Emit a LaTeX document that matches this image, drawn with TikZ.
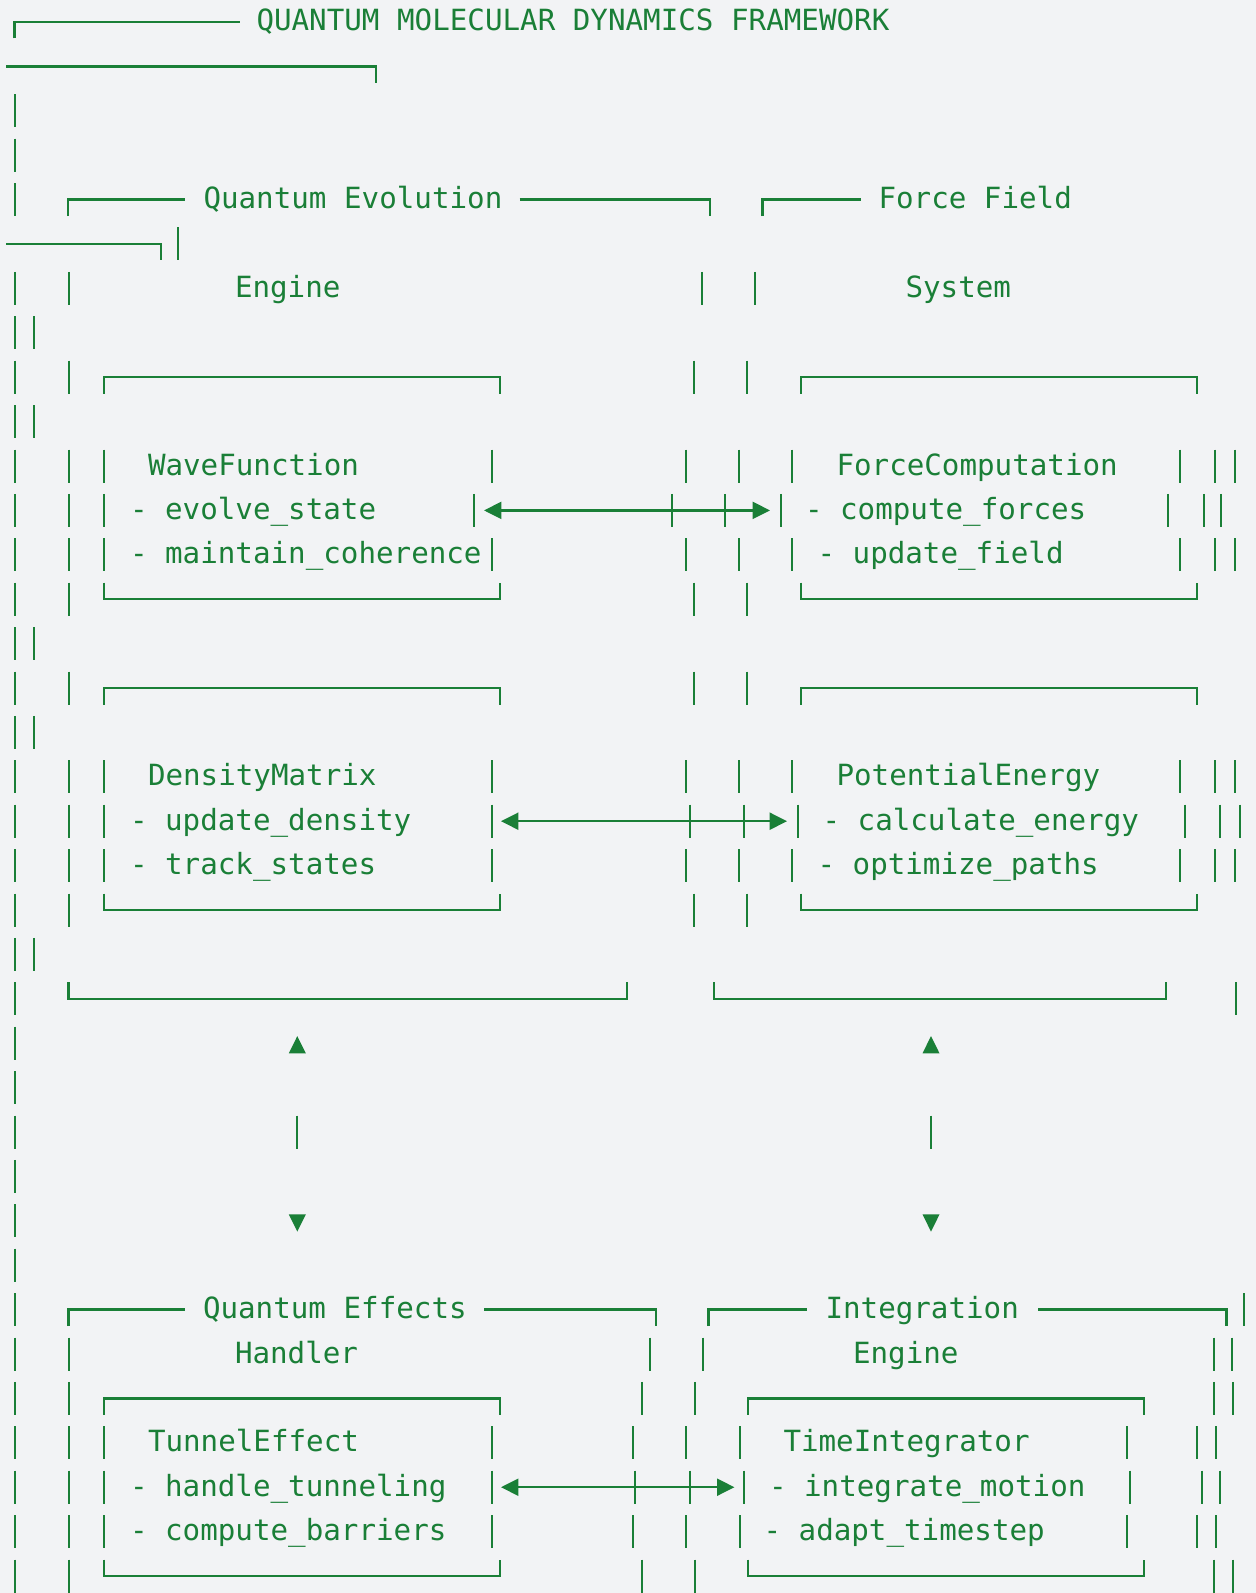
\documentclass[tikz,border=0pt]{standalone}
\usepackage{fontspec}
\newfontfamily\codefont{DejaVu Sans Mono}
\usetikzlibrary{arrows.meta}
\definecolor{ink}{RGB}{26,127,55}
\definecolor{paper}{RGB}{242,243,245}

% vertical centre of text row #1 (1 unit = 1 px, y grows downwards)
\newcommand\rowy[1]{(22+(#1-1)*44.4)}
% short vertical strokes on row #1 at the listed x positions
\newcommand\vbars[2]{\foreach \bx in {#2}{\draw[bar] (\bx,{\rowy{#1}-16.5}) -- (\bx,{\rowy{#1}+16.5});}}
% top edge of a box: corner ticks point down
\newcommand\boxtop[3]{\draw[rule] (#2,{\rowy{#1}+16.5}) -- (#2,{\rowy{#1}}) -- (#3,{\rowy{#1}}) -- (#3,{\rowy{#1}+16.5});}
% bottom edge of a box: corner ticks point up
\newcommand\boxbot[3]{\draw[rule] (#2,{\rowy{#1}-16.5}) -- (#2,{\rowy{#1}}) -- (#3,{\rowy{#1}}) -- (#3,{\rowy{#1}-16.5});}
% rule with a left corner only / a right corner only
\newcommand\ltop[3]{\draw[rule] (#2,{\rowy{#1}+16.5}) -- (#2,{\rowy{#1}}) -- (#3,{\rowy{#1}});}
\newcommand\rtop[3]{\draw[rule] (#2,{\rowy{#1}}) -- (#3,{\rowy{#1}}) -- (#3,{\rowy{#1}+16.5});}
% solid triangles pointing up / down, centred at (#1,#2)
\newcommand\uptri[2]{\fill[ink] (#1,{#2-8.6}) -- ({#1+8.5},{#2+8.6}) -- ({#1-8.5},{#2+8.6}) -- cycle;}
\newcommand\downtri[2]{\fill[ink] (#1,{#2+8.6}) -- ({#1+8.5},{#2-8.6}) -- ({#1-8.5},{#2-8.6}) -- cycle;}

\begin{document}
\begin{tikzpicture}[x=0.5pt,y=-0.5pt,
  bar/.style={draw=ink,line width=1pt},
  rule/.style={draw=ink,line width=1.2pt,line join=miter},
  txt/.style={text=ink,font=\codefont\fontsize{14.6pt}{17pt}\selectfont,
    inner sep=0pt,outer sep=0pt,anchor=base west},
  link/.style={draw=ink,line width=1.1pt,
    {Triangle[length=8.7pt,width=8.5pt]}-{Triangle[length=8.7pt,width=8.5pt]}},
]
\fill[paper] (0,0) rectangle (1256,1593);
\useasboundingbox (0,0) rectangle (1256,1593);

% ---- outer frame header
\ltop{1}{14.5}{240}
\node[txt] (title) at (256.5,{\rowy{1}+9}) {QUANTUM MOLECULAR DYNAMICS FRAMEWORK};
\rtop{2}{6}{376}
\vbars{3}{15}
\vbars{4}{15}

% ---- headers of the two upper groups
\vbars{5}{15}
\ltop{5}{67.7}{185}
\node[txt] (qe) at (203.5,{\rowy{5}+9}) {Quantum Evolution};
\rtop{5}{519.5}{710}
\ltop{5}{762.3}{861}
\node[txt] (ff) at (878.5,{\rowy{5}+9}) {Force Field};
\rtop{6}{6}{160.7}
\vbars{6}{178}
\vbars{7}{15,69.2,702,755}
\node[txt] (qe2) at (235,{\rowy{7}+9}) {Engine};
\node[txt] (ff2) at (905.5,{\rowy{7}+9}) {System};
\vbars{8}{15,33.5}

% ---- WaveFunction / ForceComputation
\vbars{9}{15,69.2,694,747.4}
\boxtop{9}{104}{500}
\boxtop{9}{800.8}{1197}
\vbars{10}{15,33.5}
\vbars{11}{15,69.2,104,492,685.6,739,792,1179.6,1215,1234.5}
\node[txt] (wf) at (148,{\rowy{11}+9}) {WaveFunction};
\node[txt] (fc) at (836.5,{\rowy{11}+9}) {ForceComputation};
\vbars{12}{15,69.2,104,474,672,725.4,780.6,1168,1203.5,1221}
\node[txt] (wf1) at (130,{\rowy{12}+9}) {- evolve\_state};
\node[txt] (fc1) at (805,{\rowy{12}+9}) {- compute\_forces};
\coordinate (wf-e) at (484,{\rowy{12}});
\coordinate (fc-w) at (770,{\rowy{12}});
\draw[link] (wf-e) -- (fc-w);
\vbars{13}{15,69.2,104,492,685.6,739,792,1179.6,1215,1234.5}
\node[txt] (wf2) at (130,{\rowy{13}+9}) {- maintain\_coherence};
\node[txt] (fc2) at (817.5,{\rowy{13}+9}) {- update\_field};
\vbars{14}{15,69.2,694,747.4}
\boxbot{14}{104}{500}
\boxbot{14}{800.8}{1197}
\vbars{15}{15,33.5}

% ---- DensityMatrix / PotentialEnergy
\vbars{16}{15,69.2,694,747.4}
\boxtop{16}{104}{500}
\boxtop{16}{800.8}{1197}
\vbars{17}{15,33.5}
\vbars{18}{15,69.2,104,492,685.6,739,792,1179.6,1215,1234.5}
\node[txt] (dm) at (148,{\rowy{18}+9}) {DensityMatrix};
\node[txt] (pe) at (836.5,{\rowy{18}+9}) {PotentialEnergy};
\vbars{19}{15,69.2,104,492,689.5,743.5,797.7,1185.4,1220,1239.5}
\node[txt] (dm1) at (130,{\rowy{19}+9}) {- update\_density};
\node[txt] (pe1) at (822.5,{\rowy{19}+9}) {- calculate\_energy};
\coordinate (dm-e) at (501,{\rowy{19}});
\coordinate (pe-w) at (787,{\rowy{19}});
\draw[link] (dm-e) -- (pe-w);
\vbars{20}{15,69.2,104,492,685.6,739,792,1179.6,1215,1234.5}
\node[txt] (dm2) at (130,{\rowy{20}+9}) {- track\_states};
\node[txt] (pe2) at (817.5,{\rowy{20}+9}) {- optimize\_paths};
\vbars{21}{15,69.2,694,747.4}
\boxbot{21}{104}{500}
\boxbot{21}{800.8}{1197}
\vbars{22}{15,33.5}

% ---- closing edges of the upper groups
\vbars{23}{15,1236}
\boxbot{23}{68.3}{627}
\boxbot{23}{714}{1166}

% ---- vertical links between the tiers
\vbars{24}{15}
\uptri{297.3}{\rowy{24}+1.5}
\uptri{931}{\rowy{24}+1.5}
\vbars{25}{15}
\vbars{26}{15,297.3,931}
\vbars{27}{15}
\vbars{28}{15}
\downtri{297.3}{\rowy{28}+2.2}
\downtri{931}{\rowy{28}+2.2}
\vbars{29}{15}

% ---- headers of the two lower groups
\vbars{30}{15,1243.5}
\ltop{30}{68.3}{185}
\node[txt] (qh) at (203,{\rowy{30}+9}) {Quantum Effects};
\rtop{30}{484}{656}
\ltop{30}{708.4}{807.4}
\node[txt] (ie) at (825.5,{\rowy{30}+9}) {Integration};
\rtop{30}{1038}{1226.5}
\vbars{31}{15,69.2,649.6,703.2,1214.3,1231.8}
\node[txt] (qh2) at (235,{\rowy{31}+9}) {Handler};
\node[txt] (ie2) at (853,{\rowy{31}+9}) {Engine};

% ---- TunnelEffect / TimeIntegrator
\vbars{32}{15,69.2,641.5,694.5,1214.3,1233}
\boxtop{32}{104}{500}
\boxtop{32}{748.2}{1144}
\vbars{33}{15,69.2,104,492,633,686,739.7,1127,1197,1215.5}
\node[txt] (te) at (148,{\rowy{33}+9}) {TunnelEffect};
\node[txt] (ti) at (783.5,{\rowy{33}+9}) {TimeIntegrator};
\vbars{34}{15,69.2,104,492,635,690,743.7,1130.3,1202,1220.4}
\node[txt] (te1) at (130,{\rowy{34}+9}) {- handle\_tunneling};
\node[txt] (ti1) at (769,{\rowy{34}+9}) {- integrate\_motion};
\coordinate (te-e) at (501,{\rowy{34}});
\coordinate (ti-w) at (734.4,{\rowy{34}});
\draw[link] (te-e) -- (ti-w);
\vbars{35}{15,69.2,104,492,633,686,739.7,1127,1197,1215.5}
\node[txt] (te2) at (130,{\rowy{35}+9}) {- compute\_barriers};
\node[txt] (ti2) at (763.5,{\rowy{35}+9}) {- adapt\_timestep};
\vbars{36}{15,69.2,641.5,694.5,1214.3,1233}
\boxbot{36}{104}{500}
\boxbot{36}{748.2}{1144}
\end{tikzpicture}
\end{document}
